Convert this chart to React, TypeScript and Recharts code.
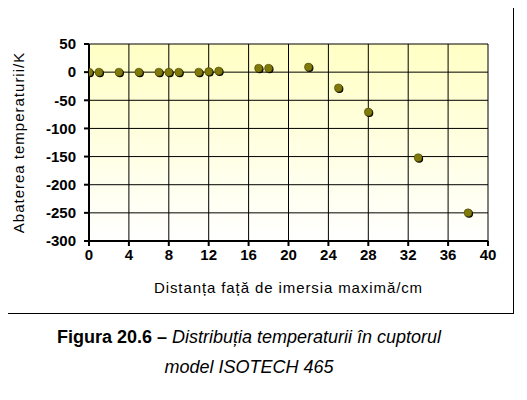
import React from 'react';
import {
  ScatterChart,
  Scatter,
  XAxis,
  YAxis,
  CartesianGrid,
} from 'recharts';

// distance from maximum immersion (cm)
const distance = [0, 1, 3, 5, 7, 8, 9, 11, 12, 13, 17, 18, 22, 25, 28, 33, 38];
// temperature deviation (K)
const deviation = [0, 0, 0, 0, 0, 0, 0, 0, 1, 2, 7, 7, 9, -28, -71, -152, -250];

const xTicks = [0, 4, 8, 12, 16, 20, 24, 28, 32, 36, 40];
const yTicks = [50, 0, -50, -100, -150, -200, -250, -300];

const data = distance.map((d, i) => ({ x: d, y: deviation[i] }));

const FONT = '"Liberation Sans", Arial, sans-serif';

const Dot = (props: any) => {
  const { cx, cy } = props;
  if (cx == null || cy == null) return null;
  return (
    <g>
      <circle cx={cx + 1} cy={cy + 1} r={4} fill="#000" />
      <circle cx={cx} cy={cy} r={4} fill="#7f7a0a" stroke="#3a3800" strokeWidth={0.5} />
    </g>
  );
};

export default function App() {
  return (
    <div style={{ position: 'relative', width: 527, height: 400, margin: -8, background: '#fff', fontFamily: FONT }}>
      <div
        style={{
          position: 'absolute',
          left: 5,
          top: 5,
          width: 507,
          height: 307,
          border: '1px solid #000',
        }}
      />
      <div style={{ position: 'absolute', left: 0, top: 0 }}>
        <ScatterChart
          width={527}
          height={320}
          margin={{ top: 44, right: 39, bottom: 19, left: 19 }}
        >
          <defs>
            <linearGradient id="bg" x1="0" y1="0" x2="0" y2="1">
              <stop offset="0%" stopColor="#ffffc4" />
              <stop offset="100%" stopColor="#ffffff" />
            </linearGradient>
          </defs>
          <CartesianGrid
            stroke="#000"
            strokeWidth={1}
            fill="url(#bg)"
            fillOpacity={1}
            horizontalValues={yTicks}
            verticalValues={xTicks}
          />
          <XAxis
            type="number"
            dataKey="x"
            domain={[0, 40]}
            ticks={xTicks}
            interval={0}
            allowDataOverflow
            height={60}
            stroke="#000"
            strokeWidth={2}
            tickSize={5}
            tickMargin={3}
            tick={{ fill: '#000', fontSize: 15, fontWeight: 'bold', fontFamily: FONT }}
            label={{
              value: 'Distanța față de imersia maximă/cm',
              position: 'insideBottom',
              offset: 8,
              style: { fill: '#000', fontSize: 15, letterSpacing: 0.9, fontFamily: FONT },
            }}
          />
          <YAxis
            type="number"
            dataKey="y"
            domain={[-300, 50]}
            ticks={yTicks}
            interval={0}
            allowDataOverflow
            width={70}
            stroke="#000"
            strokeWidth={2}
            tickSize={5}
            tickMargin={8}
            tick={{ fill: '#000', fontSize: 15, fontWeight: 'bold', fontFamily: FONT }}
            label={{
              value: 'Abaterea temperaturii/K',
              angle: -90,
              position: 'insideLeft',
              offset: 0,
              style: { textAnchor: 'middle', fill: '#000', fontSize: 15, letterSpacing: 1, fontFamily: FONT },
            }}
          />
          <Scatter data={data} shape={<Dot />} isAnimationActive={false} />
        </ScatterChart>
      </div>
      <div
        style={{
          position: 'absolute',
          top: 322,
          left: 0,
          width: 498,
          textAlign: 'center',
          fontSize: 18,
          lineHeight: '30px',
          color: '#000',
          fontFamily: FONT,
        }}
      >
        <b>Figura 20.6 – </b>
        <i>Distribuția temperaturii în cuptorul</i>
        <br />
        <i>model ISOTECH 465</i>
      </div>
    </div>
  );
}
